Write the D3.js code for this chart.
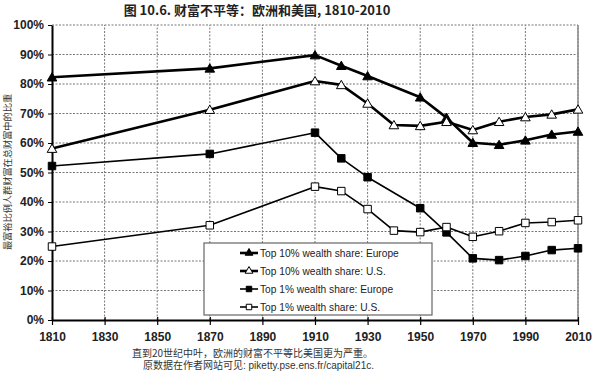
<!DOCTYPE html>
<html><head><meta charset="utf-8">
<script src="https://cdn.jsdelivr.net/npm/d3@7"></script>
<style>body{margin:0;background:#fff;} svg{display:block;font-family:"Liberation Sans",Arial,sans-serif;}</style>
</head><body>
<svg id="c" width="600" height="371"></svg>
<script>
const years10Eu = [1810,1870,1910,1920,1930,1950,1960,1970,1980,1990,2000,2010];
const top10Europe = [82.3,85.3,89.8,86.2,82.7,75.5,68.6,60.1,59.4,60.9,62.9,63.9];
const years10Us = [1810,1870,1910,1920,1930,1940,1950,1960,1970,1980,1990,2000,2010];
const top10US = [58.1,71.3,81.0,79.7,73.4,66.1,65.8,67.2,64.4,67.2,68.8,69.7,71.4];
const years1Eu = [1810,1870,1910,1920,1930,1950,1960,1970,1980,1990,2000,2010];
const top1Europe = [52.2,56.3,63.5,54.8,48.4,37.9,29.7,20.9,20.3,21.7,23.7,24.3];
const years1Us = [1810,1870,1910,1920,1930,1940,1950,1960,1970,1980,1990,2000,2010];
const top1US = [24.9,32.1,45.2,43.7,37.6,30.3,29.8,31.5,28.2,30.1,32.9,33.2,33.8];
const xTicks = [1810,1830,1850,1870,1890,1910,1930,1950,1970,1990,2010];
const yTicks = [0,10,20,30,40,50,60,70,80,90,100];
const seriesNames = ["Top 10% wealth share: Europe","Top 10% wealth share: U.S.","Top 1% wealth share: Europe","Top 1% wealth share: U.S."];
const titleText = "图 10.6. 财富不平等：欧洲和美国, 1810-2010";
const yLabel = "最富裕比例人群财富在总财富中的比重";
const notes = ["直到20世纪中叶，欧洲的财富不平等比美国更为严重。","原数据在作者网站可见: piketty.pse.ens.fr/capital21c."];

const svg = d3.select("#c");
const x = d3.scaleLinear().domain([1810,2010]).range([52,578]);
const y = d3.scaleLinear().domain([0,100]).range([320,25]);

// grid
const g = svg.append("g");
g.selectAll(".hg").data(yTicks.slice(1)).enter().append("line")
  .attr("x1",x(1810)).attr("x2",x(2010)).attr("y1",d=>y(d)).attr("y2",d=>y(d))
  .attr("stroke","#777").attr("stroke-width",1).attr("stroke-dasharray","2,1.5");
g.selectAll(".vg").data(xTicks.slice(1)).enter().append("line")
  .attr("x1",d=>x(d)).attr("x2",d=>x(d)).attr("y1",y(0)).attr("y2",y(100))
  .attr("stroke","#777").attr("stroke-width",1).attr("stroke-dasharray","2,1.5");
svg.append("line").attr("x1",x(2010)).attr("x2",x(2010)).attr("y1",y(0)).attr("y2",y(100)).attr("stroke","#888").attr("stroke-width",1.5);

// axes
const xAxis = d3.axisBottom(x).tickValues(xTicks).tickFormat(d3.format("d")).tickSize(5).tickSizeOuter(0);
const xg = svg.append("g").attr("transform",`translate(0,${y(0)})`).call(xAxis);
xg.select(".domain").attr("stroke","#000").attr("stroke-width",2);
xg.selectAll(".tick line").attr("stroke","#000").attr("stroke-width",1.2).attr("y1",-3);
xg.selectAll(".tick text").attr("font-size",12).attr("font-weight","bold").attr("fill","#222").attr("dy","1.05em");

const yAxis = d3.axisLeft(y).tickValues(yTicks).tickFormat(d=>d+"%").tickSize(4).tickSizeOuter(0);
const yg = svg.append("g").attr("transform",`translate(${x(1810)},0)`).call(yAxis);
yg.select(".domain").attr("stroke","#000").attr("stroke-width",2);
yg.selectAll(".tick line").attr("stroke","#000");
yg.selectAll(".tick text").attr("font-size",12).attr("font-weight","bold").attr("fill","#222").attr("x",-8);

// lines
const series = [
  {yrs:years10Eu, vals:top10Europe, w:2.6, shape:"tri", fill:"#000"},
  {yrs:years10Us, vals:top10US, w:2.6, shape:"tri", fill:"#fff"},
  {yrs:years1Eu, vals:top1Europe, w:1.6, shape:"sq", fill:"#000"},
  {yrs:years1Us, vals:top1US, w:1.6, shape:"sq", fill:"#fff"}
];
const line = d3.line().x(d=>x(d[0])).y(d=>y(d[1]));
const triSym = d3.symbol().type(d3.symbolTriangle).size(40);
const sqSym = d3.symbol().type(d3.symbolSquare).size(56);
series.forEach(s=>{
  const pts = s.yrs.map((yr,i)=>[yr,s.vals[i]]);
  svg.append("path").datum(pts).attr("d",line).attr("fill","none").attr("stroke","#000").attr("stroke-width",s.w).attr("stroke-linejoin","round");
  svg.selectAll(null).data(pts).enter().append("path")
    .attr("d", s.shape==="tri"?triSym:sqSym)
    .attr("transform",d=>`translate(${x(d[0])},${y(d[1]) + (s.shape==="tri"? 1:0)})`)
    .attr("fill",s.fill).attr("stroke","#000").attr("stroke-width",1);
});

// legend
const lg = svg.append("g");
lg.append("rect").attr("x",204).attr("y",243).attr("width",228).attr("height",72)
  .attr("fill","#fff").attr("stroke","#666").attr("stroke-width",1.2);
seriesNames.forEach((n,i)=>{
  const s = series[i];
  const yy = 253 + i*18;
  lg.append("line").attr("x1",240).attr("x2",258).attr("y1",yy).attr("y2",yy).attr("stroke","#000").attr("stroke-width",s.w);
  lg.append("path").attr("d", s.shape==="tri"?d3.symbol().type(d3.symbolTriangle).size(26):d3.symbol().type(d3.symbolSquare).size(30))
    .attr("transform",`translate(249,${yy})`).attr("fill",s.fill).attr("stroke","#000").attr("stroke-width",1);
  lg.append("text").attr("x",260).attr("y",yy+4).attr("font-size",10.2).attr("fill","#222").text(n);
});

// title
svg.append("text").attr("x",257).attr("y",15).attr("text-anchor","middle").attr("font-size",13).attr("font-weight","bold")
  .attr("font-family","'Noto Sans CJK SC','Liberation Sans',sans-serif").attr("fill","#222").text(titleText);

// y label
svg.append("text").attr("transform","translate(11,172) rotate(-90)").attr("text-anchor","middle")
  .attr("font-size",9.2).attr("font-family","'Noto Sans CJK SC',sans-serif").attr("fill","#333").text(yLabel);

// notes
svg.append("text").attr("x",132).attr("y",357).attr("font-size",10).attr("font-family","'Noto Sans CJK SC',sans-serif").attr("fill","#333").text(notes[0]);
svg.append("text").attr("x",143).attr("y",369).attr("font-size",10).attr("font-family","'Liberation Sans','Noto Sans CJK SC',sans-serif").attr("fill","#333").text(notes[1]);
</script>
</body></html>
